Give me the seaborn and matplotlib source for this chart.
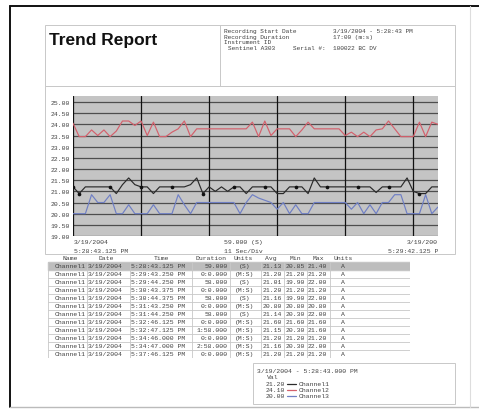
import matplotlib
matplotlib.use("Agg")
import matplotlib.pyplot as plt
from matplotlib.patches import Rectangle
import pandas as pd
import seaborn as sns

# trend samples, one per second (0..59 s)
seconds = list(range(60))
channel1 = [21.2, 20.9, 21.2, 21.2, 21.2, 21.2, 21.2, 20.9, 21.3, 21.6,
            21.3, 21.2, 21.2, 20.9, 21.2, 21.2, 21.2, 21.2, 21.2, 21.3,
            21.6, 20.9, 21.2, 21.0, 21.2, 21.0, 21.2, 21.2, 20.9, 21.2,
            21.2, 21.2, 21.2, 20.9, 20.9, 21.2, 21.2, 21.2, 20.9, 21.6,
            21.2, 21.2, 21.2, 21.2, 21.2, 21.2, 21.2, 21.2, 21.2, 20.95,
            21.2, 21.2, 21.2, 21.2, 21.6, 21.0, 20.9, 20.9, 21.2, 21.2]
channel2 = [24.05, 23.45, 23.45, 23.75, 23.5, 23.75, 23.45, 23.7, 24.15, 24.15,
            23.95, 24.15, 23.5, 24.1, 23.45, 23.45, 23.65, 23.8, 24.15, 23.45,
            23.8, 23.8, 23.8, 23.8, 23.8, 23.8, 23.8, 23.8, 23.8, 24.1,
            23.45, 24.15, 23.5, 23.8, 23.8, 23.8, 23.45, 23.75, 24.1, 23.8,
            23.8, 23.8, 23.8, 23.8, 23.5, 23.65, 23.45, 23.65, 23.45, 23.75,
            23.8, 24.15, 23.8, 23.45, 23.45, 23.45, 24.1, 23.45, 24.1, 24.0]
channel3 = [20.0, 20.0, 20.0, 20.85, 20.5, 20.5, 20.85, 20.0, 20.0, 20.4,
            20.0, 20.0, 20.0, 20.4, 20.0, 20.0, 20.0, 20.85, 20.4, 20.0,
            20.5, 20.5, 20.5, 20.5, 20.5, 20.5, 20.5, 20.0, 20.5, 20.85,
            20.7, 20.6, 20.5, 20.2, 20.5, 20.0, 20.4, 20.0, 20.0, 20.5,
            20.5, 20.5, 20.5, 20.5, 20.5, 20.2, 20.5, 20.0, 20.4, 20.0,
            20.5, 20.5, 20.85, 20.85, 20.0, 20.0, 20.0, 20.85, 20.0, 20.3]
marker_idx = [0, 1, 6, 11, 16, 21, 26, 31, 36, 41, 46, 51, 56]
channel_names = ["Channel1", "Channel2", "Channel3"]
channel_colors = ["#2a2a2a", "#d4606c", "#6f7fc4"]

y_ticks = [19.0, 19.5, 20.0, 20.5, 21.0, 21.5, 22.0, 22.5, 23.0, 23.5, 24.0, 24.5, 25.0]
x_divs = [0, 11, 22, 33, 44, 55]

# event table
tbl_header = ["Name", "Date", "Time", "Duration", "Units", "Avg", "Min", "Max", "Units"]
tbl_times = ["5:28:43.125 PM", "5:29:43.250 PM", "5:29:44.250 PM", "5:30:43.375 PM",
             "5:30:44.375 PM", "5:31:43.250 PM", "5:31:44.250 PM", "5:32:46.125 PM",
             "5:32:47.125 PM", "5:34:46.000 PM", "5:34:47.000 PM", "5:37:46.125 PM"]
tbl_durations = ["59.000", "0:0.000", "58.000", "0:0.000", "58.000", "0:0.000",
                 "58.000", "0:0.000", "1:58.000", "0:0.000", "2:58.000", "0:0.000"]
tbl_units = ["(S)", "(M:S)", "(S)", "(M:S)", "(S)", "(M:S)",
             "(S)", "(M:S)", "(M:S)", "(M:S)", "(M:S)", "(M:S)"]
tbl_avg = ["21.13", "21.20", "21.01", "21.20", "21.16", "20.80",
           "21.14", "21.60", "21.15", "21.20", "21.16", "21.20"]
tbl_min = ["20.85", "21.20", "19.90", "21.20", "19.90", "20.80",
           "20.30", "21.60", "20.30", "21.20", "20.30", "21.20"]
tbl_max = ["21.40", "21.20", "22.00", "21.20", "22.00", "20.80",
           "22.00", "21.60", "21.60", "21.20", "22.00", "21.20"]

legend_vals = ["21.20", "24.10", "20.00"]

W, H = 479, 414
MONO = "Liberation Mono"
TXT = "#404040"
BOX = "#c8c8c8"


def fig_rect(x0, y0, x1, y1):
    return [x0 / W, 1 - y1 / H, (x1 - x0) / W, (y1 - y0) / H]


sns.set_style("white")
fig = plt.figure(figsize=(W / 100, H / 100), dpi=100)

# page / boxes in pixel coordinates
bg = fig.add_axes([0, 0, 1, 1])
bg.set_xlim(0, W)
bg.set_ylim(H, 0)
bg.axis("off")
bg.plot([10, W], [7, 7], color="#111111", lw=1.4)
bg.plot([10, 10], [7, 408], color="#111111", lw=1.4)
bg.plot([10, W], [408, 408], color="#bbbbbb", lw=1.0)
bg.plot([470, 470], [7, 408], color="#dddddd", lw=0.8)
bg.add_patch(Rectangle((45, 26), 410, 61, fill=False, ec=BOX, lw=0.7))
bg.plot([220, 220], [26, 87], color=BOX, lw=0.7)
bg.add_patch(Rectangle((45, 87), 410, 168, fill=False, ec=BOX, lw=0.7))

bg.text(49, 40, "Trend Report", fontsize=12.5, fontweight="bold",
        family="Liberation Sans", va="center", ha="left", color="#111111")
hdr = dict(family=MONO, fontsize=4.4, color=TXT, va="center", ha="left")
bg.text(224, 31.5, "Recording Start Date", **hdr)
bg.text(333, 31.5, "3/19/2004 - 5:28:43 PM", **hdr)
bg.text(224, 37, "Recording Duration", **hdr)
bg.text(333, 37, "17:00 (m:s)", **hdr)
bg.text(224, 42.5, "Instrument ID", **hdr)
bg.text(228, 48, "Sentinel A303", **hdr)
bg.text(293, 48, "Serial #:", **hdr)
bg.text(333, 48, "100022 BC DV", **hdr)

small = dict(family=MONO, fontsize=4.6, color=TXT, va="center")
bg.text(74, 243, "3/19/2004", ha="left", **small)
bg.text(74, 252, "5:28:43.125 PM", ha="left", **small)
bg.text(243, 243, "59.000 (S)", ha="center", **small)
bg.text(243, 252, "11 Sec/Div", ha="center", **small)
bg.text(438, 243, "3/19/200", ha="right", **small)
bg.text(438, 252, "5:29:42.125 P", ha="right", **small)

# trend chart
ax = fig.add_axes(fig_rect(73, 97, 438, 237))
ax.set_facecolor("#c4c4c4")
df = pd.DataFrame({
    "t": seconds * 3,
    "val": channel1 + channel2 + channel3,
    "ch": [channel_names[0]] * 60 + [channel_names[1]] * 60 + [channel_names[2]] * 60,
})
for v in y_ticks:
    ax.axhline(v, color="#4e4e4e", lw=0.9, zorder=1)
for d in x_divs:
    ax.axvline(d, color="#111111", lw=0.9, zorder=1)
sns.lineplot(data=df, x="t", y="val", hue="ch", hue_order=channel_names[::-1],
             palette=dict(zip(channel_names, channel_colors)),
             linewidth=0.85, legend=False, ax=ax, zorder=3)
marks = pd.DataFrame({"t": [seconds[i] for i in marker_idx],
                      "val": [channel1[i] for i in marker_idx]})
sns.scatterplot(data=marks, x="t", y="val", color="#111111", s=7, marker="o",
                linewidth=0, ax=ax, zorder=4)
ax.set_xlim(0, 59)
ax.set_ylim(19.0, 25.27)
ax.set_yticks(y_ticks)
ax.set_yticklabels([f"{v:.2f}" for v in y_ticks], family=MONO, fontsize=4.6, color=TXT)
ax.set_xticks(x_divs)
ax.set_xticklabels([])
ax.tick_params(length=0, pad=2)
ax.set_xlabel("")
ax.set_ylabel("")
for s in ax.spines.values():
    s.set_visible(False)

# event table (row index on y)
tx = fig.add_axes(fig_rect(45, 255, 410, 359))
tx.set_xlim(45, 410)
tx.set_ylim(11.5, -1.5)
tx.axis("off")
n = len(tbl_times)
tx.axhspan(-0.5, 0.5, xmin=3 / 365, xmax=1, color="#bdbdbd", zorder=0)
for r in range(n + 1):
    tx.plot([48, 410], [r - 0.5, r - 0.5], color=BOX, lw=0.6, zorder=1)
for cx in [48, 87, 130, 192, 230, 261, 284, 307, 330, 409.5]:
    tx.plot([cx, cx], [-0.5, n - 0.5], color=BOX, lw=0.6, zorder=1)

cell = dict(family=MONO, fontsize=4.6, color=TXT, va="center")
for label, x, ha in zip(tbl_header, [70, 106, 162, 195, 233, 265, 290, 313, 333],
                        ["center", "center", "center", "left", "left",
                         "left", "left", "left", "left"]):
    tx.text(x, -1, label, ha=ha, **cell)
for r in range(n):
    tx.text(55, r, "Channel1", ha="left", **cell)
    tx.text(88, r, "3/19/2004", ha="left", **cell)
    tx.text(131, r, tbl_times[r], ha="left", **cell)
    tx.text(228, r, tbl_durations[r], ha="right", **cell)
    tx.text(245, r, tbl_units[r], ha="center", **cell)
    tx.text(263, r, tbl_avg[r], ha="left", **cell)
    tx.text(285.5, r, tbl_min[r], ha="left", **cell)
    tx.text(308, r, tbl_max[r], ha="left", **cell)
    tx.text(343, r, "A", ha="center", **cell)

# cursor readout box
bg.add_patch(Rectangle((253, 364), 202, 41, fill=False, ec=BOX, lw=0.7))
bg.text(257, 372, "3/19/2004 - 5:28:43.000 PM", ha="left", **small)
bg.text(267, 378, "Val", ha="left", **small)
for i, (val, name, col) in enumerate(zip(legend_vals, channel_names, channel_colors)):
    yy = 385 + 6 * i
    bg.text(285, yy, val, ha="right", **small)
    bg.plot([287.5, 296], [yy, yy], color=col, lw=0.9)
    bg.text(299, yy, name, ha="left", **small)

fig.savefig("out.png", dpi=100)
